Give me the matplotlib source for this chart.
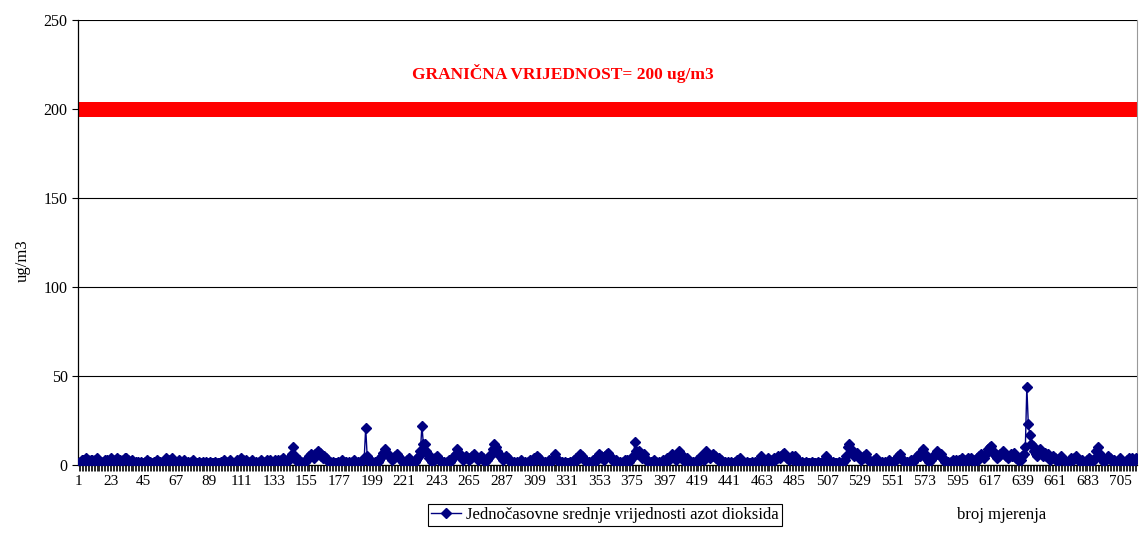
import numpy as np
import matplotlib
matplotlib.use("Agg")
from matplotlib import pyplot as plt

# hourly NO2 means (ug/m3)
values = [
    1, 2, 3, 3, 2, 4, 3, 2, 3, 3, 2, 3, 4, 3, 2, 2, 1, 2, 3, 3,
    2, 3, 4, 3, 2, 3, 4, 3, 3, 2, 3, 4, 4, 3, 2, 2, 3, 2, 1, 2,
    2, 1, 2, 1, 1, 2, 3, 2, 2, 1, 1, 2, 2, 3, 2, 2, 1, 2, 3, 4,
    3, 2, 3, 4, 3, 2, 1, 2, 3, 2, 2, 3, 2, 1, 2, 1, 2, 3, 2, 1,
    1, 2, 1, 1, 2, 1, 2, 1, 1, 2, 1, 1, 2, 1, 1, 1, 2, 2, 3, 2,
    1, 2, 3, 2, 1, 1, 2, 3, 2, 3, 4, 3, 2, 3, 2, 1, 2, 3, 2, 1,
    2, 1, 2, 3, 2, 1, 2, 3, 2, 3, 2, 1, 2, 3, 2, 3, 2, 3, 4, 3,
    2, 3, 3, 4, 6, 10, 5, 3, 2, 3, 2, 1, 2, 2, 3, 4, 5, 6, 5, 4,
    6, 7, 8, 7, 5, 4, 5, 4, 3, 2, 2, 1, 2, 1, 1, 2, 1, 2, 3, 2,
    1, 2, 1, 2, 1, 2, 3, 2, 1, 2, 1, 2, 3, 4, 21, 5, 2, 3, 2, 1,
    2, 1, 2, 3, 4, 5, 7, 9, 7, 6, 5, 4, 3, 4, 5, 6, 5, 4, 3, 2,
    1, 2, 3, 4, 3, 2, 1, 2, 3, 4, 5, 8, 22, 12, 12, 8, 6, 4, 3, 2,
    3, 4, 5, 4, 3, 2, 1, 2, 1, 2, 3, 2, 3, 4, 5, 6, 9, 7, 5, 4,
    3, 4, 5, 4, 3, 4, 5, 6, 5, 4, 3, 4, 5, 4, 3, 2, 3, 4, 5, 6,
    9, 12, 10, 8, 6, 5, 4, 3, 4, 5, 4, 3, 2, 1, 2, 1, 2, 1, 2, 3,
    2, 1, 2, 1, 2, 3, 2, 3, 4, 3, 5, 4, 3, 2, 1, 2, 1, 2, 3, 2,
    3, 4, 6, 4, 3, 2, 1, 2, 1, 2, 1, 1, 2, 1, 2, 3, 4, 3, 4, 6,
    5, 4, 3, 2, 1, 2, 1, 2, 3, 2, 4, 5, 6, 5, 4, 3, 5, 6, 7, 5,
    4, 3, 2, 3, 2, 1, 2, 1, 2, 3, 2, 3, 2, 3, 4, 5, 13, 8, 6, 8,
    5, 4, 6, 4, 3, 2, 1, 2, 2, 3, 2, 1, 2, 1, 2, 3, 2, 3, 4, 3,
    4, 6, 5, 4, 3, 5, 8, 6, 4, 3, 2, 4, 3, 2, 1, 2, 1, 2, 3, 2,
    3, 5, 4, 3, 8, 7, 5, 4, 5, 6, 5, 4, 3, 4, 3, 2, 1, 2, 1, 2,
    1, 2, 1, 1, 2, 3, 2, 4, 3, 2, 1, 1, 2, 1, 1, 2, 1, 2, 1, 2,
    3, 5, 4, 3, 2, 3, 4, 3, 2, 3, 4, 3, 4, 5, 4, 5, 6, 7, 5, 4,
    3, 4, 5, 3, 5, 4, 2, 1, 1, 2, 1, 1, 2, 1, 1, 1, 2, 1, 1, 1,
    2, 1, 1, 2, 3, 5, 4, 2, 1, 1, 2, 1, 1, 1, 2, 1, 1, 2, 3, 5,
    10, 12, 9, 7, 5, 6, 7, 5, 4, 3, 4, 5, 6, 4, 3, 2, 1, 2, 3, 4,
    3, 2, 1, 2, 1, 2, 1, 2, 3, 2, 1, 2, 3, 4, 5, 6, 4, 3, 2, 1,
    2, 1, 2, 3, 2, 3, 4, 5, 6, 5, 6, 9, 6, 4, 3, 2, 3, 4, 5, 6,
    8, 6, 5, 6, 4, 3, 2, 1, 2, 1, 2, 3, 2, 3, 2, 3, 2, 4, 3, 2,
    3, 4, 3, 4, 3, 2, 3, 4, 3, 5, 6, 5, 4, 6, 7, 9, 10, 11, 8, 6,
    5, 4, 5, 6, 7, 8, 6, 5, 4, 5, 6, 5, 7, 5, 4, 3, 4, 3, 5, 6,
    10, 44, 23, 17, 12, 11, 8, 6, 5, 7, 9, 6, 5, 7, 5, 6, 4, 3, 4, 5,
    4, 3, 2, 3, 5, 4, 3, 2, 1, 2, 3, 4, 3, 4, 5, 4, 3, 2, 3, 2,
    1, 2, 3, 4, 3, 2, 3, 4, 8, 10, 7, 5, 3, 2, 3, 4, 5, 4, 3, 2,
    3, 2, 1, 3, 4, 3, 2, 1, 2, 3, 4, 3, 4, 2, 3, 4,
]
limit_value = 200
y_ticks = [0, 50, 100, 150, 200, 250]
label_every = 22

series_name = "Jednočasovne srednje vrijednosti azot dioksida"
limit_text = "GRANIČNA VRIJEDNOST= 200 ug/m3"

plt.rcParams['font.family'] = ['Liberation Serif', 'DejaVu Serif']
fs = 12

fig = plt.figure(figsize=(11.39, 5.55), dpi=100)
ax = fig.add_axes([0.0685, 0.162, 0.9295, 0.802])

x = np.arange(1, len(values) + 1)
line, = ax.plot(x, values, color='#000080', lw=1, marker='D', markersize=4.8,
                label=series_name, zorder=3)

ax.axhline(limit_value, color='#ff0000', lw=10.8, zorder=2)
ax.text(328, 220, limit_text, color='#ff0000', fontsize=12.5, fontweight='bold',
        ha='center', va='center')

ax.set_ylim(0, 250)
ax.set_xlim(0.5, len(values) + 0.3)
ax.set_yticks(y_ticks)
ax.tick_params(axis='y', labelsize=11.5, length=4, width=0.8, direction='out')
ax.yaxis.grid(True, color='black', lw=0.8)
ax.set_axisbelow(True)

ax.set_xticks(x)
ax.set_xticklabels([str(v) if (v - 1) % label_every == 0 else '' for v in x])
ax.tick_params(axis='x', labelsize=11, length=4, width=0.6, direction='out', pad=3)

ax.spines['top'].set_visible(False)
ax.spines['right'].set_color('#999999')
ax.spines['left'].set_linewidth(0.9)
ax.spines['bottom'].set_linewidth(0.9)

fig.text(0.02, 0.53, "ug/m3", rotation=90, fontsize=fs, ha='center', va='center')
fig.text(0.879, 0.072, "broj mjerenja", fontsize=fs, ha='center', va='center')

leg = fig.legend(handles=[line], loc='center', bbox_to_anchor=(0.531, 0.072),
                 fontsize=fs, frameon=True, fancybox=False, edgecolor='black',
                 framealpha=1, borderpad=0.2, handlelength=1.8, handletextpad=0.3)
leg.get_frame().set_linewidth(0.8)

fig.savefig("out.png", dpi=100)
